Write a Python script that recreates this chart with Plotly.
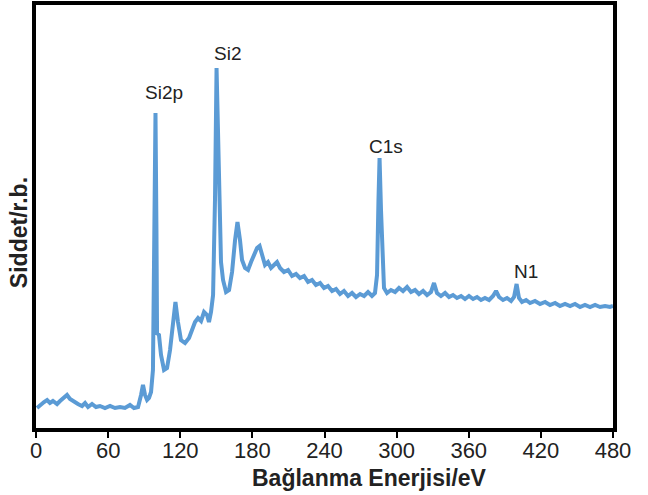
import plotly.graph_objects as go

# Binding energy (eV) and intensity (arbitrary units)
energy = [0.8, 3.3, 6.7, 9.2, 11.6, 14.1, 17.5, 20, 23.3, 25.8, 28.3, 31.6, 34.9, 38.3, 40.8, 43.3,
          46.6, 49.9, 53.2, 57.4, 61.6, 65.7, 69.9, 74, 78.2, 81.5, 84.9, 87.4, 89, 90.7, 92.4, 94,
          95.7, 97.3, 98.6, 99.4, 100.2, 100.7, 102.3, 104, 106.5, 109, 111.5, 114, 116, 118.1,
          120.6, 124, 127.3, 129.8, 132.3, 134.8, 137.3, 139.8, 142.3, 143.9, 145.6, 147.3, 148.9,
          150.2, 151.4, 152.7, 153.9, 155.6, 158.1, 160.6, 163.1, 165.6, 167.6, 169.7, 171.4,
          173.9, 176.4, 178.9, 181.4, 183.9, 186, 188, 190.5, 193, 195.5, 198, 200.5, 203, 206.3,
          209.7, 213, 216.3, 219.6, 223, 226.3, 229.6, 232.9, 236.3, 239.6, 242.9, 246.3, 249.6,
          252.9, 256.2, 259.6, 262.9, 266.2, 269.6, 272.9, 276.2, 279.5, 282, 283.7, 284.9, 285.8,
          287, 288.3, 289.5, 292, 295.3, 298.7, 302, 305.3, 308.7, 312, 315.3, 318.6, 322, 325.3,
          328.6, 331.1, 333.6, 336.9, 340.3, 343.6, 346.9, 350.2, 353.6, 356.9, 360.2, 363.6,
          366.9, 370.2, 373.5, 376.9, 380.2, 382.7, 385.2, 388.5, 391.8, 395.2, 397.7, 399.8,
          401.8, 404.3, 407.7, 411, 415.1, 419.3, 423.5, 427.6, 431.8, 435.9, 440.1, 444.3, 448.4,
          452.6, 456.7, 460.9, 465.1, 469.2, 473.4, 477.5, 480]
intensity = [20, 23, 26, 28, 25, 27, 24, 27, 31, 33, 29, 26, 24, 22, 25, 21,
             24, 21, 22, 20, 22, 20, 21, 20, 23, 20, 21, 33, 43, 33, 28, 30,
             36, 58, 178, 315, 198, 95, 93, 73, 58, 60, 78, 110, 126, 106,
             88, 85, 90, 98, 106, 110, 107, 116, 113, 106, 116, 133, 228,
             360, 288, 190, 166, 148, 136, 138, 156, 188, 206, 188, 168,
             160, 158, 166, 172, 180, 182, 173, 163, 166, 160, 163, 166, 160, 156,
             158, 152, 154, 150, 152, 146, 148, 143, 145, 140, 142, 137, 139,
             134, 137, 132, 135, 131, 134, 132, 136, 132, 135, 153, 228, 270,
             218, 160, 140, 135, 138, 136, 140, 137, 141, 136, 138, 134, 137, 133,
             136, 145, 135, 132, 135, 131, 133, 130, 132, 129, 132, 129,
             131, 128, 130, 128, 132, 137, 131, 128, 130, 127, 131, 144,
             130, 126, 128, 125, 127, 124, 126, 123, 125, 122, 124, 122, 124,
             121, 123, 121, 123, 121, 122, 121, 122]

peak_labels = ["Si2p", "Si2", "C1s", "N1"]
peak_label_x = [106.5, 159.7, 291.2, 407.7]
peak_label_y = [336, 375, 282, 157]

x_ticks = [0, 60, 120, 180, 240, 300, 360, 420, 480]
x_title = "Bağlanma Enerjisi/eV"
y_title = "Siddet/r.b."

FONT = "Liberation Sans, Arial"

fig = go.Figure()
fig.add_trace(go.Scatter(x=energy, y=intensity, mode="lines",
                         line=dict(color="#5B9BD5", width=4), showlegend=False))

for t, xx, yy in zip(peak_labels, peak_label_x, peak_label_y):
    fig.add_annotation(x=xx, y=yy, text=t, showarrow=False, xanchor="center", yanchor="middle",
                       font=dict(family=FONT, size=19, color="#222"))

fig.add_annotation(xref="paper", yref="paper", x=0.578, y=-0.118, text="<b>" + x_title + "</b>",
                   xanchor="center", yanchor="middle", showarrow=False,
                   font=dict(family=FONT, size=23, color="#222"))
fig.add_annotation(xref="paper", yref="paper", x=-0.0295, y=0.463, text="<b>" + y_title + "</b>",
                   textangle=-90, xanchor="center", yanchor="middle", showarrow=False,
                   font=dict(family=FONT, size=23, color="#222"))

fig.update_xaxes(range=[0, 480], tickvals=x_ticks, ticks="outside", ticklen=6, tickwidth=2,
                 tickcolor="black", showline=True, linewidth=4, linecolor="black", mirror=True,
                 showgrid=False, zeroline=False, automargin=False, ticklabelstandoff=-6,
                 tickfont=dict(family=FONT, size=22, color="#222"))
fig.update_yaxes(range=[0, 423], showticklabels=False, ticks="", showline=True, linewidth=4,
                 linecolor="black", mirror=True, showgrid=False, zeroline=False, automargin=False)

fig.update_layout(width=648, height=495, margin=dict(l=36, r=35, t=5, b=67),
                  plot_bgcolor="white", paper_bgcolor="white")

fig.write_html("out.html", config={"displayModeBar": False},
               post_script="document.body.style.margin='0';")
